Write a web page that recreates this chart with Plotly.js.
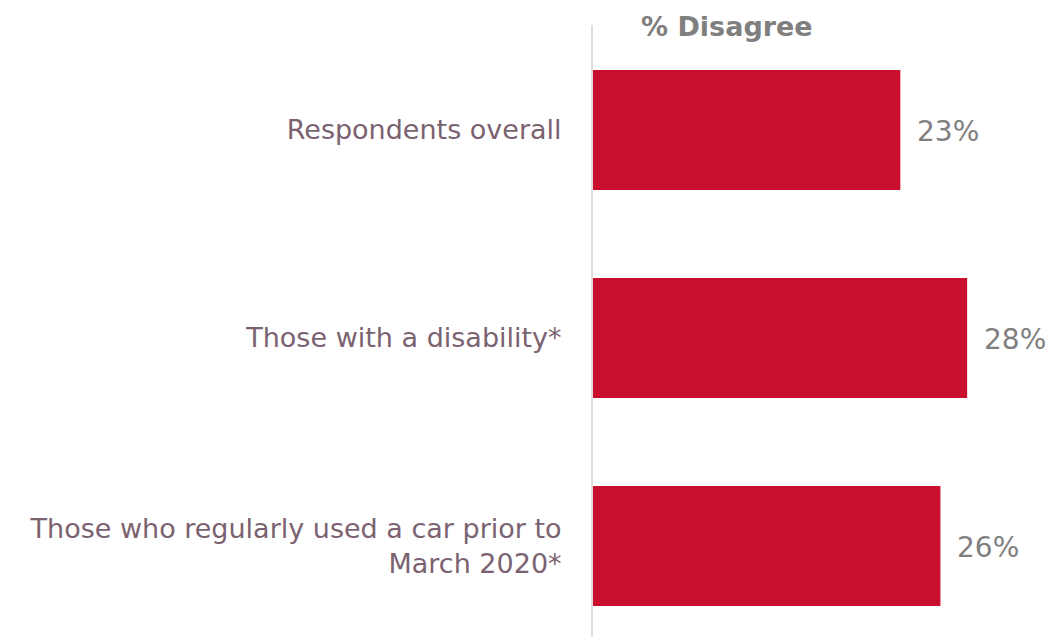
<!DOCTYPE html>
<html>
<head>
<meta charset="utf-8">
<script src="https://cdn.plot.ly/plotly-3.0.1.min.js"></script>
<style>html,body{margin:0;padding:0;background:#fff;}#chart{width:1050px;height:642px;}</style>
</head>
<body>
<div id="chart"></div>
<script>
var categories = ["Respondents overall", "Those with a disability*", "Those who regularly used a car prior to<br>March 2020*"];
var values = [23, 28, 26];
var valueLabels = ["23%", "28%", "26%"];
var titleText = "% Disagree";

var FONT = "'DejaVu Sans', 'Liberation Sans', sans-serif";

var trace = {
  type: "bar",
  orientation: "h",
  x: values,
  y: categories,
  width: 0.577,
  marker: {color: "#c8102e"},
  hoverinfo: "none"
};

var annotations = values.map(function(v, i){
  return {
    x: v, y: categories[i], xref: "x", yref: "y",
    text: valueLabels[i], showarrow: false,
    xanchor: "left", yanchor: "middle", xshift: 15, yshift: -1,
    font: {family: FONT, size: 28, color: "#7f7f7f"}
  };
});
annotations.push({
  x: 0.293, y: 1.0, xref: "x domain", yref: "y domain",
  text: "<b>" + titleText + "</b>", showarrow: false,
  xanchor: "center", yanchor: "bottom", yshift: -19,
  font: {family: FONT, size: 27, color: "#7f7f7f"}
});

var layout = {
  width: 1050, height: 642,
  margin: {l: 593, r: 0, t: 25, b: 5},
  paper_bgcolor: "#ffffff", plot_bgcolor: "#ffffff",
  showlegend: false,
  xaxis: {
    range: [0, 34.2], showgrid: false, zeroline: false, showticklabels: false,
    showline: false, fixedrange: true
  },
  yaxis: {
    type: "category",
    range: [2.4375, -0.505],
    showgrid: false, zeroline: false,
    showline: true, linecolor: "#e2dade", linewidth: 2,
    ticks: "", ticklabelstandoff: 24,
    tickfont: {family: FONT, size: 27, color: "#7b6270"}
  },
  annotations: annotations
};

Plotly.newPlot("chart", [trace], layout, {displayModeBar: false, staticPlot: true});
</script>
</body>
</html>
